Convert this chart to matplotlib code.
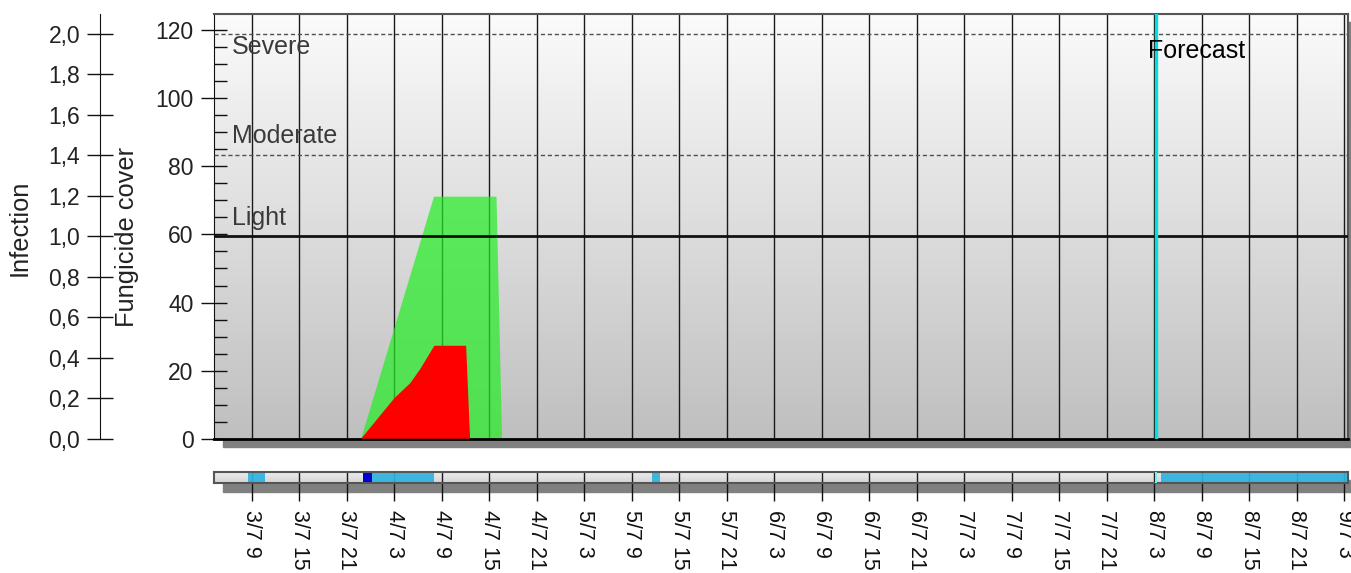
import numpy as np
import matplotlib.pyplot as plt
from matplotlib.colors import LinearSegmentedColormap
from matplotlib.patches import Rectangle
from matplotlib.ticker import MultipleLocator, FuncFormatter

plt.rcParams['font.family'] = ['Liberation Sans', 'DejaVu Sans']

# time axis: hours counted from 3/7 00:00
tick_hours = [9, 15, 21, 27, 33, 39, 45, 51, 57, 63, 69, 75,
              81, 87, 93, 99, 105, 111, 117, 123, 129, 135, 141, 147]
tick_labels = ['3/7 9', '3/7 15', '3/7 21', '4/7 3', '4/7 9', '4/7 15',
               '4/7 21', '5/7 3', '5/7 9', '5/7 15', '5/7 21', '6/7 3',
               '6/7 9', '6/7 15', '6/7 21', '7/7 3', '7/7 9', '7/7 15',
               '7/7 21', '8/7 3', '8/7 9', '8/7 15', '8/7 21', '9/7 3']
x_start, x_end = 4.2, 147.5
forecast_hour = 123.3

# green area (fungicide cover scale)
green_hours = [22.8, 32.0, 39.9, 40.6]
green_values = [0, 71.1, 71.1, 0]

# red area (fungicide cover scale)
red_hours = [22.8, 27.0, 29.0, 30.25, 32.05, 36.06, 36.56]
red_values = [0, 11.9, 16.3, 20.4, 27.3, 27.3, 0]

# risk thresholds (fungicide cover scale)
severe_level = 119.0
moderate_level = 83.4
light_level = 59.5

# weather strip segments (start hour, end hour)
wet_start = [8.5, 24.2, 59.5, 123.9]
wet_end = [10.7, 32.0, 60.5, 147.5]
heavy_start = [23.0]
heavy_end = [24.2]

W, H = 1351, 573
def fx(px):
    return px / W
def fy(py):
    return 1 - py / H

fig = plt.figure(figsize=(W / 100, H / 100), dpi=100)

# main panel geometry (pixels)
m_left, m_right, m_top, m_bottom = 214, 1348, 13.5, 438.7
s_top, s_bottom = 471.7, 483.3
shadow = 8.5

# drop shadows
fig.patches.append(Rectangle((fx(m_left + shadow), fy(m_bottom + shadow)),
                             fx(m_right) - fx(m_left), fy(m_top) - fy(m_bottom),
                             transform=fig.transFigure, color='#808080', zorder=-5))
fig.patches.append(Rectangle((fx(m_left + shadow), fy(s_bottom + shadow)),
                             fx(m_right) - fx(m_left), fy(s_top) - fy(s_bottom),
                             transform=fig.transFigure, color='#808080', zorder=-5))

ax = fig.add_axes([fx(m_left), fy(m_bottom), fx(m_right) - fx(m_left), fy(m_top) - fy(m_bottom)])
y_top = 124.9
ax.set_xlim(x_start, x_end)
ax.set_ylim(0, y_top)

bg = LinearSegmentedColormap.from_list('bg', ['#bfbfbf', '#fbfbfb'])
ax.imshow(np.linspace(0, 1, 256).reshape(-1, 1), cmap=bg, origin='lower', aspect='auto',
          extent=[x_start, x_end, 0, y_top], zorder=0)

ax.set_axisbelow(True)
ax.set_xticks(tick_hours)
ax.tick_params(axis='x', length=0, labelbottom=False)
ax.grid(axis='x', color='#1a1a1a', lw=1.0)

ax.fill(green_hours, green_values, color='#22ee22', alpha=0.7, lw=0, zorder=2)
ax.fill(red_hours, red_values, color='#ff0000', lw=0, zorder=3)

ax.axhline(severe_level, color='#505050', lw=1, ls=(0, (3, 2)), zorder=4)
ax.axhline(moderate_level, color='#505050', lw=1, ls=(0, (3, 2)), zorder=4)
ax.axhline(light_level, color='#111111', lw=2, zorder=4)
ax.axvline(forecast_hour, color='#00e0e0', lw=2.4, zorder=5)

tr = ax.get_yaxis_transform()
label_size = 18
ax.text(0.016, 113.0, 'Severe', transform=tr, fontsize=label_size, color='#3a3a3a', va='baseline')
ax.text(0.016, 86.8, 'Moderate', transform=tr, fontsize=label_size, color='#3a3a3a', va='baseline')
ax.text(0.016, 62.8, 'Light', transform=tr, fontsize=label_size, color='#3a3a3a', va='baseline')
ax.text(122.2, 111.8, 'Forecast', fontsize=label_size, color='#000000', va='baseline', zorder=6)

ax.yaxis.set_major_locator(MultipleLocator(20))
ax.yaxis.set_minor_locator(MultipleLocator(5))
ax.tick_params(axis='y', which='major', direction='inout', length=19.4, width=1,
               color='#111111', labelsize=16.5, pad=5, labelcolor='#222222')
ax.tick_params(axis='y', which='minor', direction='in', length=9.4, width=1, color='#111111')
for side in ['top', 'right']:
    ax.spines[side].set_color('#555555')
    ax.spines[side].set_linewidth(1.5)
ax.spines['left'].set_color('#111111')
ax.spines['bottom'].set_color('#000000')
ax.spines['bottom'].set_linewidth(2)

# infection scale on the far left
ax_inf = fig.add_axes([fx(100), fy(m_bottom), 0.0005, fy(m_top) - fy(m_bottom)])
ax_inf.set_ylim(0, 2.1)
ax_inf.patch.set_visible(False)
for side in ['top', 'right', 'bottom']:
    ax_inf.spines[side].set_visible(False)
ax_inf.spines['left'].set_color('#111111')
ax_inf.set_xticks([])
ax_inf.yaxis.set_major_locator(MultipleLocator(0.2))
ax_inf.yaxis.set_major_formatter(FuncFormatter(lambda v, p: f'{v:.1f}'.replace('.', ',')))
ax_inf.tick_params(axis='y', direction='inout', length=18.7, width=1, color='#111111',
                   labelsize=16.5, pad=5, labelcolor='#222222')

fig.text(fx(20), fy(228), 'Infection', rotation=90, fontsize=18.3, ha='center', va='center', color='#222222')
fig.text(fx(127), fy(237), 'Fungicide cover', rotation=90, fontsize=18.3, ha='center', va='center', color='#222222')

# weather strip
ax_s = fig.add_axes([fx(m_left), fy(s_bottom), fx(m_right) - fx(m_left), fy(s_top) - fy(s_bottom)])
ax_s.set_xlim(x_start, x_end)
ax_s.set_ylim(0, 1)
strip_bg = LinearSegmentedColormap.from_list('sbg', ['#d4d4d4', '#eeeeee'])
ax_s.imshow(np.linspace(0, 1, 64).reshape(-1, 1), cmap=strip_bg, origin='lower', aspect='auto',
            extent=[x_start, x_end, 0, 1], zorder=0)
ax_s.set_axisbelow(True)
ax_s.grid(axis='x', color='#1a1a1a', lw=1.0)
for a, b in zip(wet_start, wet_end):
    ax_s.axvspan(a, b, color='#2eb2e0', alpha=0.92, lw=0, zorder=2)
for a, b in zip(heavy_start, heavy_end):
    ax_s.axvspan(a, b, color='#0000d0', lw=0, zorder=2)
ax_s.axvline(forecast_hour, color='#70f0f0', lw=1.5, zorder=3)
ax_s.set_yticks([])
ax_s.set_xticks(tick_hours)
ax_s.set_xticklabels(tick_labels, rotation=270, fontsize=15.5, color='#111111')
ax_s.tick_params(axis='x', direction='out', length=13, width=1, color='#111111', pad=6)
for side in ax_s.spines:
    ax_s.spines[side].set_color('#555555')
    ax_s.spines[side].set_linewidth(1.5)

fig.savefig('out.png', dpi=100)
